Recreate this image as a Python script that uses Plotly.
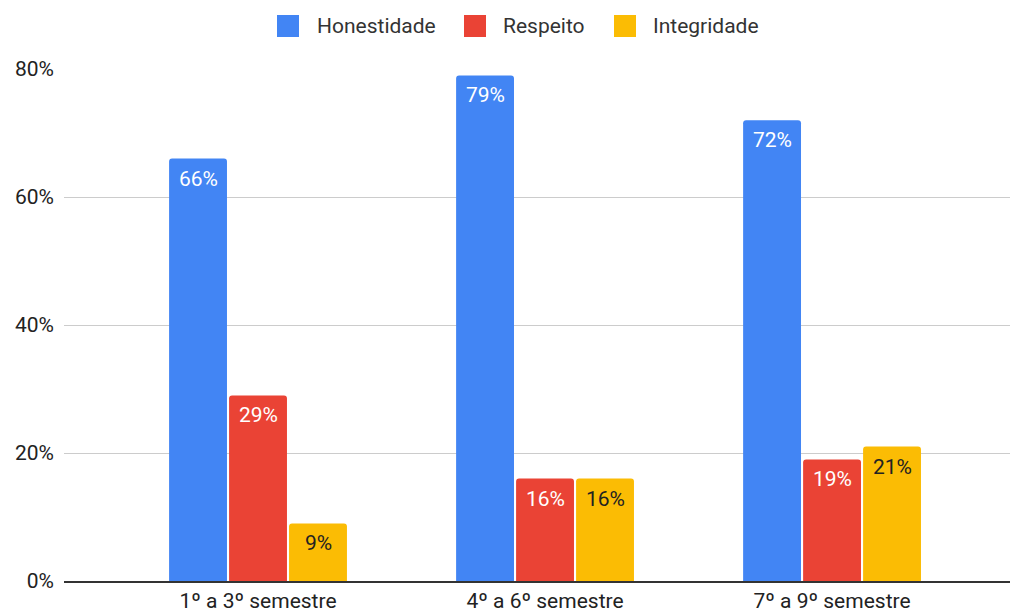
import plotly.graph_objects as go

categories = ["1º a 3º semestre", "4º a 6º semestre", "7º a 9º semestre"]
honestidade = [0.66, 0.79, 0.72]
respeito = [0.29, 0.16, 0.19]
integridade = [0.09, 0.16, 0.21]

series = [
    ("Honestidade", honestidade, "#4285F4", "#FFFFFF"),
    ("Respeito", respeito, "#EA4335", "#FFFFFF"),
    ("Integridade", integridade, "#FBBC04", "#222222"),
]

# plot area in pixels
L, R, T, B = 64, 2, 69, 29
W, H = 1012, 610
PW, PH = W - L - R, H - T - B


def px_x(px):
    return (px - L) / PW


def px_y(py):
    return (H - B - py) / PH


fig = go.Figure()
annotations, shapes = [], []
bar_offsets = [-60, 0, 60]
for (name, vals, color, txtcolor), dx in zip(series, bar_offsets):
    fig.add_trace(go.Bar(
        name=name,
        x=categories,
        y=vals,
        marker=dict(color=color, line=dict(width=0), cornerradius=3),
        hoverinfo="skip",
        showlegend=False,
    ))
    # value label near the top inside each bar
    for cat, v in zip(categories, vals):
        annotations.append(dict(
            x=cat, y=v, xref="x", yref="y",
            xshift=dx, yshift=-20,
            xanchor="center", yanchor="middle", showarrow=False,
            text=f"{v:.0%}",
            font=dict(family="Roboto", size=21, color=txtcolor),
        ))

# legend drawn as swatches + labels along the top
legend_items = [(277, 315), (464, 501), (614, 651)]
for (sx, tx), (name, _, color, _) in zip(legend_items, series):
    shapes.append(dict(
        type="rect", xref="paper", yref="paper",
        x0=px_x(sx), x1=px_x(sx + 22), y0=px_y(37), y1=px_y(15),
        fillcolor=color, line=dict(width=0), layer="above",
    ))
    annotations.append(dict(
        xref="paper", yref="paper", x=px_x(tx), y=px_y(26),
        xanchor="left", yanchor="middle", showarrow=False,
        text=name, font=dict(family="Roboto", size=21, color="#333333"),
    ))

fig.update_layout(
    width=W,
    height=H,
    margin=dict(l=L, r=R, t=T, b=B),
    paper_bgcolor="white",
    plot_bgcolor="white",
    barmode="group",
    bargap=0.373,
    bargroupgap=0.035,
    font=dict(family="Roboto", size=21, color="#222222"),
    showlegend=False,
    shapes=shapes,
    annotations=annotations,
    xaxis=dict(
        type="category",
        range=[-0.676, 2.620],
        automargin=False,
        showgrid=False,
        showline=True,
        linecolor="#333333",
        linewidth=1.5,
        ticks="",
        ticklabelstandoff=0,
        tickfont=dict(size=21, color="#222222"),
    ),
    yaxis=dict(
        range=[0, 0.8],
        tickvals=[0, 0.2, 0.4, 0.6, 0.8],
        tickformat=".0%",
        automargin=False,
        showgrid=True,
        gridcolor="#CCCCCC",
        gridwidth=1,
        zeroline=False,
        showline=False,
        ticks="",
        ticklabelstandoff=9,
        tickfont=dict(size=21, color="#222222"),
    ),
)

fig.write_html("out.html")
